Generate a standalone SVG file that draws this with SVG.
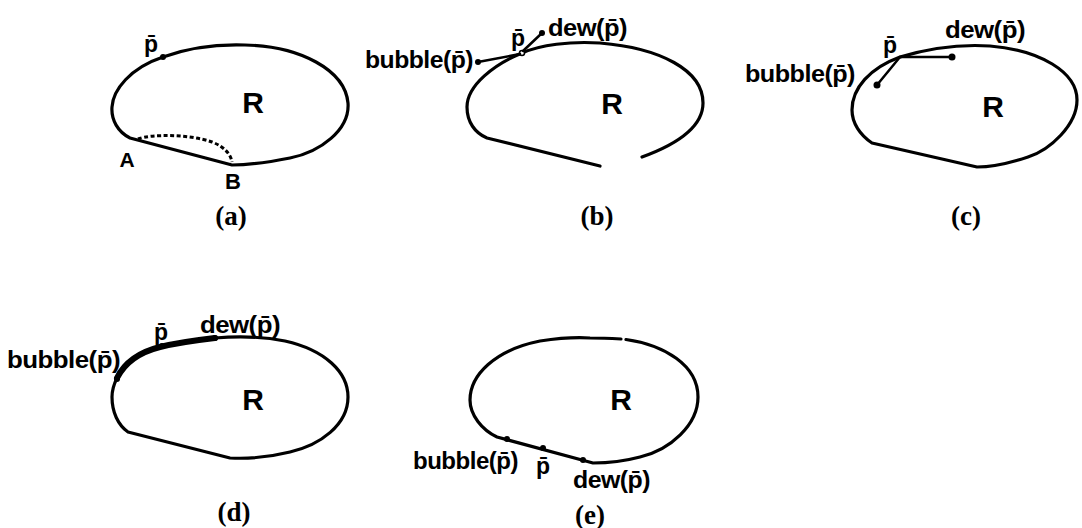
<svg xmlns="http://www.w3.org/2000/svg" width="1082" height="528" viewBox="0 0 1082 528">
<style>
.bg{fill:#fff}
.outline{fill:none;stroke:#000;stroke-width:3.2;stroke-linejoin:round;stroke-linecap:round}
.thick{fill:none;stroke:#000;stroke-width:6;stroke-linecap:round}
.dash{fill:none;stroke:#000;stroke-width:3;stroke-dasharray:4 2.5}
.conn{fill:none;stroke:#000;stroke-width:2.5;stroke-linecap:round}
.dot{fill:#000}
.lbl{font-family:"Liberation Sans",Arial,sans-serif;font-weight:bold;font-size:24px;fill:#000;letter-spacing:-0.5px}
.pl{font-family:"Liberation Sans",Arial,sans-serif;font-weight:bold;font-size:23px;fill:#000;text-anchor:middle}
.R{font-family:"Liberation Sans",Arial,sans-serif;font-weight:bold;font-size:30px;fill:#000;text-anchor:middle}
.cap{font-family:"Liberation Serif","Times New Roman",serif;font-weight:bold;font-size:27px;fill:#000;text-anchor:middle}
</style>
<rect class="bg" x="0" y="0" width="1082" height="528"/>

<!-- (a) -->
<g id="panel-a">
  <path class="outline" d="M130,138 C118,132 111,120 112,107 C113,90 130,68 163,57 C185,49 215,44 245,45 C300,46 345,70 348,103 C350,130 320,152 290,158 C270,162 250,165 232,165 L130,138 Z"/>
  <path class="dash" d="M138,139 C150,134 190,134 212,142 C225,147 231,155 232,162"/>
  <circle class="dot" cx="163" cy="57" r="3"/>
  <text class="pl" x="151" y="52">p&#x304;</text>
  <text class="pl" x="127" y="167" style="font-size:21px">A</text>
  <text class="pl" x="233" y="189" style="font-size:22px">B</text>
  <text class="R" x="253" y="113">R</text>
  <text class="cap" x="231" y="225">(a)</text>
</g>

<!-- (b) -->
<g id="panel-b">
  <path class="outline" d="M642,157 C675,145 703,128 703,103 C703,70 660,48 600,43 C570,41 540,45 522,53 C495,64 467,85 467,107 C467,122 475,133 487,138 L600,166"/>
  <circle class="dot" cx="478" cy="62" r="3"/>
  <circle class="dot" cx="542" cy="33" r="3"/>
  <circle cx="522" cy="53" r="2.5" fill="#fff" stroke="#000" stroke-width="1.5"/>
  <text class="lbl" x="365" y="68" textLength="108" lengthAdjust="spacingAndGlyphs">bubble(p&#x304;)</text>
  <text class="pl" x="518" y="46">p&#x304;</text>
  <text class="lbl" x="548" y="36" textLength="79" lengthAdjust="spacingAndGlyphs">dew(p&#x304;)</text>
  <text class="R" x="612" y="114">R</text>
  <text class="cap" x="597" y="225">(b)</text>
</g>

<!-- (c) -->
<g id="panel-c">
  <path class="outline" d="M900,57 C930,48 960,44 990,46 C1040,50 1077,72 1077,100 C1077,125 1050,150 1028,157 C1010,163 995,167 977,167 L872,143 C860,135 852,123 852,110 C852,88 870,68 900,57 Z"/>
  <circle class="dot" cx="877" cy="85" r="3.5"/>
  <circle class="dot" cx="952" cy="57" r="3.5"/>
  <text class="lbl" x="745" y="82" textLength="110" lengthAdjust="spacingAndGlyphs">bubble(p&#x304;)</text>
  <text class="pl" x="890" y="53">p&#x304;</text>
  <text class="lbl" x="945" y="38" textLength="80" lengthAdjust="spacingAndGlyphs">dew(p&#x304;)</text>
  <text class="R" x="993" y="117">R</text>
  <text class="cap" x="966" y="225">(c)</text>
</g>

<!-- (d) -->
<g id="panel-d">
  <path class="outline" d="M117,378 C125,362 140,352 160,347 C180,342 198,340 215,338 C240,336 265,337 285,341 C325,350 348,372 348,397 C348,425 320,445 290,452 C270,457 250,459 230,458 L128,432 C118,425 112,412 112,397 C112,390 114,384 117,378 Z"/>
  <path class="thick" d="M117,378 C125,362 140,352 160,347 C180,342 198,340 215,338"/>
  <circle class="dot" cx="117" cy="379" r="3"/>
  <circle class="dot" cx="162" cy="346" r="3"/>
  <circle class="dot" cx="215" cy="338" r="3"/>
  <text class="lbl" x="7" y="368" textLength="113" lengthAdjust="spacingAndGlyphs">bubble(p&#x304;)</text>
  <text class="pl" x="161" y="340">p&#x304;</text>
  <text class="lbl" x="200" y="333" textLength="80" lengthAdjust="spacingAndGlyphs">dew(p&#x304;)</text>
  <text class="R" x="253" y="410">R</text>
  <text class="cap" x="234" y="521">(d)</text>
</g>

<!-- (e) -->
<g id="panel-e">
  <path class="outline" d="M626,339.5 C664,345 698,365 698,397 C698,425 670,450 640,457 C625,461 608,463 593,463 L497,437 C482,430 470,415 470,400 C470,375 495,350 540,341 C560,338 575,337 590,338 C603,338 612,338.5 621,339"/>
  <circle class="dot" cx="507" cy="439" r="3"/>
  <circle class="dot" cx="543" cy="448" r="3"/>
  <circle class="dot" cx="583" cy="460" r="3"/>
  <text class="lbl" x="413" y="469" textLength="105" lengthAdjust="spacingAndGlyphs">bubble(p&#x304;)</text>
  <text class="pl" x="543" y="474">p&#x304;</text>
  <text class="lbl" x="573" y="488" textLength="77" lengthAdjust="spacingAndGlyphs">dew(p&#x304;)</text>
  <text class="R" x="621" y="410">R</text>
  <text class="cap" x="590" y="524">(e)</text>
</g>

<!-- connectors -->
<g id="connectors">
  <line class="conn" x1="478" y1="62" x2="520" y2="54"/>
  <line class="conn" x1="523" y1="51" x2="542" y2="33"/>
  <line class="conn" x1="900" y1="57" x2="877" y2="85"/>
  <line class="conn" x1="900" y1="57" x2="952" y2="57"/>
</g>
</svg>
